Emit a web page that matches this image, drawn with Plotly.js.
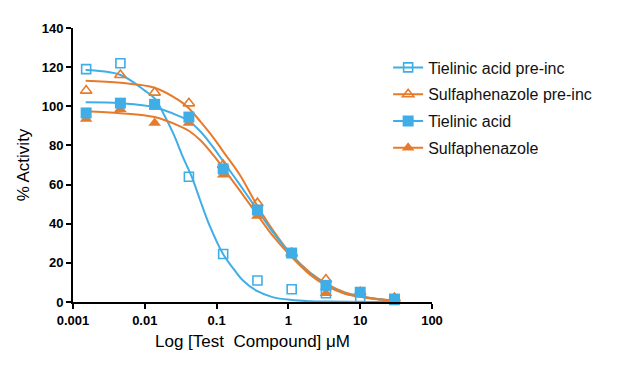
<!DOCTYPE html>
<html>
<head>
<meta charset="utf-8">
<script src="https://cdn.plot.ly/plotly-3.0.1.min.js"></script>
<style>html,body{margin:0;padding:0;background:#fff;}#chart{width:621px;height:366px;}</style>
</head>
<body>
<div id="chart"></div>
<script>
// Measured concentrations (µM)
const conc = [0.001524, 0.004572, 0.01372, 0.04115, 0.1235, 0.3704, 1.111, 3.333, 10, 30];

// Measured % activity
const tielPre  = [119, 122, 101, 64, 24.5, 11, 6.5, 4.5, 2.5, 1];
const sulfPre  = [108, 116, 107, 101.5, 70, 50.5, 25, 11.5, 5, 2];
const tiel     = [96.6, 101.6, 101, 94.5, 68, 47, 25, 8.5, 5, 1.5];
const sulf     = [93.5, 98.5, 91.5, 91.5, 65, 44, 24.5, 4.5, 4, 1.5];

// Fitted curves
const fitXPre = [0.0015, 0.0046, 0.01, 0.0137, 0.018, 0.025, 0.034, 0.045, 0.059, 0.08, 0.123, 0.18, 0.233, 0.37, 0.6, 1.11, 2, 3.33, 10, 30];
const fitTielPre = [118.5, 116, 108, 104, 96.6, 86, 74, 64, 52, 39, 24.5, 16, 11, 5.5, 2.5, 1, 0.4, 0.2, 0.05, 0];
const fitX = [0.0015, 0.0046, 0.0137, 0.03, 0.041, 0.06, 0.09, 0.123, 0.21, 0.37, 0.6, 1.11, 2, 3.33, 6, 10, 18, 30];
const fitSulfPre = [113, 112, 109.5, 103, 99, 92, 84, 77, 65, 49, 37, 24, 15, 9.5, 5, 3, 1.5, 0.8];
const fitTiel    = [102, 101.5, 99.5, 95, 92.5, 87, 79, 72, 60, 47, 36, 24, 14.5, 9, 4.5, 2.8, 1.4, 0.7];
const fitSulf    = [97.5, 96.5, 94.5, 90, 87.5, 82.5, 75, 68.5, 57, 44.5, 34, 23, 14, 8.5, 4.3, 2.7, 1.3, 0.7];

const names = ['Tielinic acid pre-inc', 'Sulfaphenazole pre-inc', 'Tielinic acid', 'Sulfaphenazole'];
const xTicks = [0.001, 0.01, 0.1, 1, 10, 100];
const xTickText = ['0.001', '0.01', '0.1', '1', '10', '100'];
const yTicks = [0, 20, 40, 60, 80, 100, 120, 140];

const BLUE = '#3FAEE6';
const ORANGE = '#E67B2B';
const FONT = 'Liberation Sans, Arial, sans-serif';

const styles = [
  {color: BLUE,   symbol: 'square-open',      size: 9,  lw: 1.6},
  {color: ORANGE, symbol: 'triangle-up-open', size: 10, lw: 1.6},
  {color: BLUE,   symbol: 'square',           size: 11, lw: 0},
  {color: ORANGE, symbol: 'triangle-up',      size: 11, lw: 0}
];

const data = [];
// curves
[[fitXPre, fitTielPre, 0], [fitX, fitSulfPre, 1], [fitX, fitTiel, 2], [fitX, fitSulf, 3]].forEach(([xs, ys, i]) => {
  data.push({x: xs, y: ys, mode: 'lines', type: 'scatter', showlegend: false, hoverinfo: 'skip',
    line: {color: styles[i].color, width: 2, shape: 'spline', smoothing: 1}});
});
// markers: draw order
const markerSets = [[sulfPre, 1], [tielPre, 0], [sulf, 3], [tiel, 2]];
markerSets.forEach(([ys, i]) => {
  const s = styles[i];
  data.push({x: conc, y: ys, mode: 'markers', type: 'scatter', showlegend: false, cliponaxis: false,
    marker: {symbol: s.symbol, size: s.size, color: s.color, line: {color: s.color, width: s.lw}}});
});
// legend entries
[0, 1, 2, 3].forEach(i => {
  const s = styles[i];
  data.push({x: [null], y: [null], name: names[i], legendgroup: 'g' + i, mode: 'lines+markers', type: 'scatter',
    line: {color: s.color, width: 2},
    marker: {symbol: s.symbol, size: s.size, color: s.color, line: {color: s.color, width: s.lw}}});
});

const layout = {
  width: 621, height: 366,
  margin: {l: 73, r: 189, t: 28, b: 64, autoexpand: false},
  paper_bgcolor: '#fff', plot_bgcolor: '#fff',
  font: {family: FONT, color: '#000'},
  showlegend: true,
  legend: {xref: 'container', yref: 'container', x: 0.625, y: 0.862, xanchor: 'left', yanchor: 'top',
    tracegroupgap: 3, font: {size: 16, color: '#111'}, itemwidth: 30, bgcolor: 'rgba(0,0,0,0)'},
  xaxis: {
    type: 'log', range: [-3, 2], tickvals: xTicks, ticktext: xTickText,
    showgrid: false, zeroline: false, showline: true, linecolor: '#000', linewidth: 2,
    ticks: 'outside', ticklen: 5, tickwidth: 2, tickcolor: '#000',
    tickfont: {size: 13, family: FONT, weight: 'bold'},
    title: {text: 'Log [Test  Compound] \u03BCM', font: {size: 17}, standoff: 9}
  },
  yaxis: {
    range: [0, 140], tickvals: yTicks,
    showgrid: false, zeroline: false, showline: true, linecolor: '#000', linewidth: 2,
    ticks: 'outside', ticklen: 5, tickwidth: 2, tickcolor: '#000',
    tickfont: {size: 13, family: FONT, weight: 'bold'},
    title: {text: '% Activity', font: {size: 17}, standoff: 8}
  }
};

Plotly.newPlot('chart', data, layout, {displayModeBar: false, staticPlot: true});
</script>
</body>
</html>
